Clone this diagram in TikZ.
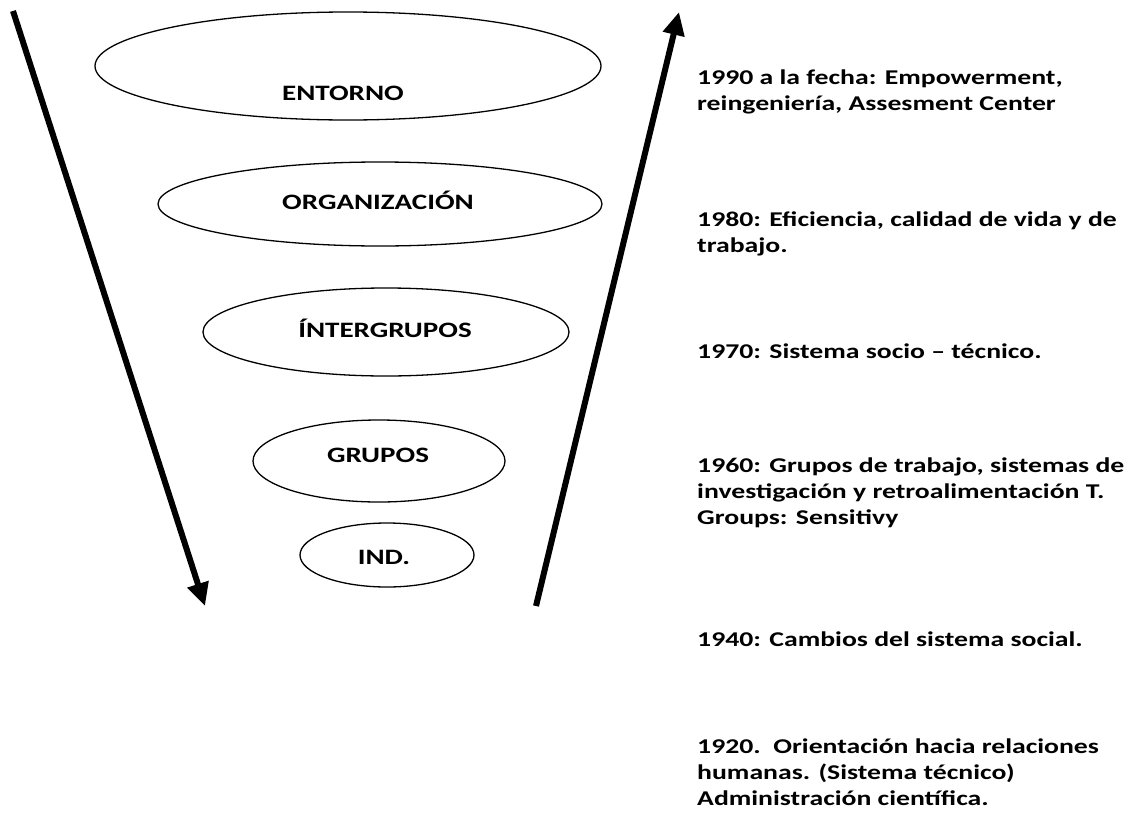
\documentclass[tikz,border=0pt]{standalone}
\usepackage{fontspec}
\setmainfont{Carlito}[FakeStretch=1.32]
\usetikzlibrary{arrows.meta,shapes.geometric}
\begin{document}
\begin{tikzpicture}[x=1pt,y=-1pt,
  lvl/.style={draw, ellipse, line width=1.3pt, inner sep=0pt},
  lbl/.style={font=\bfseries\fontsize{22}{26}\selectfont, inner sep=0pt},
  era/.style={font=\bfseries\fontsize{21}{26}\selectfont, inner sep=0pt, anchor=north west, align=left},
  bigarrow/.style={line width=6pt, -{Triangle[length=23pt,width=21pt]}}]
\useasboundingbox[fill=white] (0,0) rectangle (1135,822);
% levels
\node[lvl, minimum width=506pt, minimum height=108pt] (entorno) at (348,66) {};
\node[lbl] (entornot) at (343,93) {ENTORNO};
\node[lvl, minimum width=444pt, minimum height=84pt] (org) at (380,204) {};
\node[lbl] (orgt) at (378,200) {ORGANIZACIÓN};
\node[lvl, minimum width=366pt, minimum height=88pt] (inter) at (386,332) {};
\node[lbl] (intert) at (385,328) {ÍNTERGRUPOS};
\node[lvl, minimum width=252pt, minimum height=82pt] (grupos) at (379,461) {};
\node[lbl] (grupost) at (378,455) {GRUPOS};
\node[lvl, minimum width=174pt, minimum height=64pt] (ind) at (387,555) {};
\node[lbl] (indt) at (384,557) {IND.};
% arrows
\coordinate (dtop) at (13,11);
\coordinate (dbot) at (205,606);
\coordinate (ubot) at (536,606);
\coordinate (utop) at (679,12);
\draw[bigarrow] (dtop) -- (dbot);
\draw[bigarrow] (ubot) -- (utop);
% eras
\node[era] (e1990) at (697,70) {1990 a la fecha: Empowerment,\\reingeniería, Assesment Center};
\node[era] (e1980) at (697,212) {1980: Eficiencia, calidad de vida y de\\trabajo.};
\node[era] (e1970) at (697,344) {1970: Sistema socio – técnico.};
\node[era] (e1960) at (697,458) {1960: Grupos de trabajo, sistemas de\\investigación y retroalimentación T.\\Groups: Sensitivy};
\node[era] (e1940) at (697,632) {1940: Cambios del sistema social.};
\node[era] (e1920) at (697,739) {1920.\ \ Orientación hacia relaciones\\humanas. (Sistema técnico)\\Administración científica.};
\end{tikzpicture}
\end{document}
